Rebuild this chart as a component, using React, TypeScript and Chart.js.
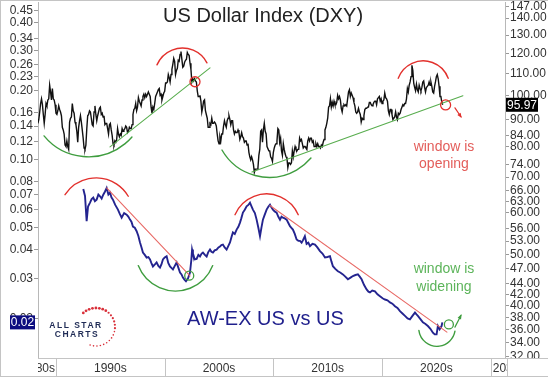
import React, { useEffect, useRef } from 'react';
import { Chart, registerables } from 'chart.js';

Chart.register(...registerables);

// ---------------- data ----------------
// US Dollar Index, monthly closes, starting April 1988
const DXY_START_YEAR = 1988;
const DXY_START_MONTH = 4; // end of April
const dxyLate1980s = [88.5, 90.0, 93.0, 96.5, 98.5, 96.0, 92.0, 88.5, 92.0,
  96.5, 95.5, 98.0, 98.5, 104.5, 101.5, 98.0, 103.0, 98.5, 98.0, 96.0, 92.5];
const dxy1990s = [
  92.0, 93.5, 95.5, 94.0, 93.0, 91.5, 87.0, 86.0, 84.5, 80.5, 80.0, 82.0,
  80.0, 79.0, 89.0, 90.5, 91.0, 96.5, 93.5, 92.5, 89.0, 88.0, 85.5, 81.5,
  87.0, 89.5, 91.5, 89.0, 86.0, 83.0, 79.5, 79.0, 80.5, 86.5, 91.5, 92.0,
  93.5, 93.0, 90.5, 88.0, 87.5, 93.0, 95.5, 92.0, 89.5, 91.5, 93.0, 94.5,
  95.0, 92.0, 92.5, 91.0, 91.5, 88.0, 88.5, 88.5, 86.5, 84.5, 88.0, 88.5,
  86.0, 84.0, 81.0, 80.5, 82.0, 81.5, 82.5, 86.5, 84.5, 83.5, 84.5, 84.0,
  86.5, 85.5, 86.0, 86.5, 87.5, 87.0, 85.0, 85.5, 87.0, 86.5, 86.5, 88.0,
  92.0, 94.0, 94.5, 96.5, 93.5, 95.0, 99.0, 97.5, 96.5, 95.5, 98.0, 99.5,
  100.5, 99.0, 100.5, 99.5, 100.5, 101.5, 100.5, 99.5, 95.0, 92.5, 95.0, 94.0,
  96.5, 99.5, 100.5, 101.5, 102.5, 103.0, 100.0, 100.5, 98.0, 99.5, 101.0, 101.8,
];
const dxy2000s = [
  105.5, 105.5, 106.0, 109.5, 108.0, 106.0, 109.5, 112.0, 114.5, 117.5, 116.0, 109.5,
  111.5, 112.5, 116.5, 116.0, 119.5, 121.0, 117.0, 113.0, 113.5, 115.5, 116.5, 117.0,
  120.5, 119.5, 119.0, 115.0, 112.0, 106.0, 107.5, 106.5, 107.5, 106.5, 106.0, 102.0,
  99.5, 99.5, 100.0, 97.5, 93.0, 95.0, 97.5, 98.0, 93.5, 92.0, 90.5, 87.0,
  87.0, 88.5, 88.0, 90.5, 88.5, 88.5, 89.0, 88.5, 87.5, 84.5, 82.0, 81.0,
  83.5, 82.0, 84.5, 84.5, 87.5, 89.5, 88.0, 87.0, 89.5, 90.5, 91.5, 90.0,
  88.0, 89.5, 89.5, 86.0, 84.5, 85.5, 85.0, 85.0, 86.0, 85.0, 82.5, 83.5,
  85.0, 83.5, 83.0, 81.5, 82.0, 82.0, 80.5, 81.0, 78.0, 76.5, 75.5, 76.5,
  75.5, 74.0, 71.5, 72.5, 72.5, 72.5, 73.0, 77.0, 79.0, 85.5, 86.0, 81.5,
  86.0, 88.5, 85.5, 84.5, 80.0, 80.0, 78.5, 78.5, 76.5, 76.0, 75.0, 78.0,
];
const dxy2010s = [
  79.5, 80.5, 81.0, 82.0, 86.5, 86.0, 81.5, 83.0, 78.5, 77.0, 81.0, 79.0,
  77.5, 76.5, 76.0, 73.0, 74.5, 74.5, 74.0, 74.5, 78.5, 76.5, 78.5, 80.0,
  79.0, 78.5, 79.0, 79.0, 83.0, 82.0, 82.5, 81.0, 79.5, 80.0, 80.0, 79.5,
  79.0, 82.0, 83.0, 82.0, 83.0, 83.0, 81.5, 82.0, 80.0, 80.0, 81.0, 80.0,
  81.0, 80.0, 80.0, 79.5, 80.5, 80.0, 81.5, 82.5, 86.0, 87.0, 88.5, 90.5,
  95.0, 95.5, 98.5, 95.0, 97.0, 95.5, 97.5, 96.0, 96.0, 97.0, 100.0, 98.5,
  99.5, 98.0, 94.5, 93.0, 95.5, 96.0, 95.5, 96.0, 95.5, 98.5, 101.5, 102.5,
  99.5, 101.0, 100.0, 99.0, 97.0, 95.5, 93.0, 92.5, 93.0, 94.5, 93.0, 92.0,
  89.0, 90.5, 90.0, 91.5, 94.0, 94.5, 94.5, 95.0, 95.0, 97.0, 97.0, 96.0,
  95.5, 96.0, 97.0, 97.5, 97.5, 96.0, 98.5, 99.0, 99.5, 97.5, 98.5, 96.5,
];
const dxy2020s = [
  97.5, 98.0, 101.0, 99.0, 98.5, 97.5, 93.5, 92.0, 94.0, 94.0, 92.0, 90.0,
  90.5, 91.0, 93.0, 91.0, 90.0, 92.5, 92.0, 92.5, 94.0, 94.0, 96.0, 95.5,
  96.5, 96.5, 98.5, 103.0, 101.5, 104.5, 106.0, 108.5, 114.0, 111.5, 105.5, 103.5,
  102.0, 105.0, 102.5, 101.5, 104.5, 103.0, 102.0, 103.5, 106.0, 106.5, 103.5, 101.5,
  103.5, 104.0, 104.5, 106.0, 104.5, 106.0, 104.0, 101.5, 101.0, 104.0, 106.0, 108.5,
  109.5, 107.5, 104.0, 99.5, 99.5, 97.0, 95.97,
];

// AW-EX US vs US ratio: [year, value]
const awex1990s: [number, number][] = [
  [1992.51, 0.0741], [1992.67, 0.0690], [1992.82, 0.0534], [1992.95, 0.0620], [1993.13, 0.0645],
  [1993.28, 0.0668], [1993.43, 0.0679], [1993.58, 0.0655], [1993.74, 0.0665], [1993.90, 0.0700],
  [1994.05, 0.0688], [1994.20, 0.0672], [1994.35, 0.0699], [1994.50, 0.0720], [1994.66, 0.0748],
  [1994.82, 0.0700], [1994.97, 0.0714], [1995.10, 0.0680], [1995.24, 0.0665], [1995.45, 0.0630],
  [1995.70, 0.0601], [1995.87, 0.0575], [1996.04, 0.0554], [1996.27, 0.0580], [1996.50, 0.0571],
  [1996.65, 0.0560], [1996.81, 0.0543], [1996.95, 0.0530], [1997.08, 0.0506], [1997.25, 0.0500],
  [1997.42, 0.0483], [1997.58, 0.0460], [1997.73, 0.0431], [1997.87, 0.0410], [1998.00, 0.0389],
  [1998.17, 0.0380], [1998.34, 0.0370], [1998.50, 0.0372], [1998.65, 0.0363], [1998.78, 0.0350],
  [1998.92, 0.0338], [1999.10, 0.0345], [1999.26, 0.0352], [1999.42, 0.0340], [1999.57, 0.0334],
  [1999.70, 0.0345], [1999.84, 0.0363],
];
const awex2000s: [number, number][] = [
  [2000.00, 0.0370], [2000.18, 0.0375], [2000.33, 0.0350], [2000.49, 0.0338], [2000.62, 0.0333],
  [2000.76, 0.0328], [2000.93, 0.0340], [2001.10, 0.0352], [2001.25, 0.0335], [2001.41, 0.0318],
  [2001.55, 0.0312], [2001.68, 0.0302], [2001.82, 0.0296], [2001.96, 0.0291], [2002.15, 0.0300],
  [2002.33, 0.0318], [2002.45, 0.0360], [2002.52, 0.0401], [2002.60, 0.0385], [2002.77, 0.0363],
  [2002.94, 0.0365], [2003.10, 0.0380], [2003.25, 0.0374], [2003.40, 0.0385], [2003.52, 0.0389],
  [2003.70, 0.0380], [2003.86, 0.0374], [2004.00, 0.0390], [2004.17, 0.0401], [2004.30, 0.0392],
  [2004.44, 0.0389], [2004.60, 0.0398], [2004.78, 0.0401], [2004.95, 0.0410], [2005.09, 0.0414],
  [2005.22, 0.0420], [2005.36, 0.0422], [2005.52, 0.0410], [2005.70, 0.0401], [2005.85, 0.0415],
  [2006.01, 0.0431], [2006.15, 0.0455], [2006.28, 0.0477], [2006.45, 0.0470], [2006.62, 0.0491],
  [2006.78, 0.0505], [2006.93, 0.0527], [2007.05, 0.0550], [2007.20, 0.0583], [2007.37, 0.0600],
  [2007.54, 0.0621], [2007.70, 0.0630], [2007.85, 0.0645], [2008.00, 0.0620], [2008.12, 0.0601],
  [2008.30, 0.0580], [2008.46, 0.0543], [2008.62, 0.0500], [2008.77, 0.0459], [2008.90, 0.0500],
  [2009.04, 0.0543], [2009.20, 0.0570], [2009.38, 0.0601], [2009.55, 0.0620], [2009.69, 0.0632],
  [2009.82, 0.0615], [2009.96, 0.0601],
];
const awex2010s: [number, number][] = [
  [2010.12, 0.0590], [2010.30, 0.0583], [2010.45, 0.0560], [2010.61, 0.0543], [2010.75, 0.0560],
  [2010.88, 0.0554], [2011.05, 0.0550], [2011.22, 0.0543], [2011.38, 0.0525], [2011.53, 0.0508],
  [2011.66, 0.0500], [2011.80, 0.0491], [2011.97, 0.0470], [2012.14, 0.0444], [2012.30, 0.0438],
  [2012.45, 0.0438], [2012.60, 0.0430], [2012.72, 0.0440], [2012.90, 0.0459], [2013.06, 0.0425],
  [2013.22, 0.0430], [2013.37, 0.0415], [2013.60, 0.0425], [2013.83, 0.0422], [2014.05, 0.0410],
  [2014.29, 0.0395], [2014.52, 0.0385], [2014.75, 0.0370], [2014.98, 0.0372], [2015.21, 0.0375],
  [2015.35, 0.0355], [2015.48, 0.0339], [2015.70, 0.0330], [2015.94, 0.0322], [2016.15, 0.0318],
  [2016.40, 0.0312], [2016.62, 0.0305], [2016.86, 0.0297], [2017.10, 0.0302], [2017.32, 0.0307],
  [2017.55, 0.0310], [2017.78, 0.0312], [2017.95, 0.0305], [2018.12, 0.0297], [2018.35, 0.0280],
  [2018.58, 0.0268], [2018.75, 0.0262], [2018.89, 0.0260], [2019.10, 0.0265], [2019.35, 0.0263],
  [2019.58, 0.0255], [2019.81, 0.0250],
];
const awex2020s: [number, number][] = [
  [2020.05, 0.0245], [2020.27, 0.0242], [2020.50, 0.0240], [2020.73, 0.0235], [2020.95, 0.0232],
  [2021.19, 0.0226], [2021.42, 0.0222], [2021.65, 0.0215], [2021.88, 0.0210], [2022.11, 0.0205],
  [2022.35, 0.0200], [2022.57, 0.0198], [2022.80, 0.0205], [2023.03, 0.0212], [2023.17, 0.0208],
  [2023.30, 0.0205], [2023.55, 0.0198], [2023.76, 0.0192], [2024.00, 0.0189], [2024.22, 0.0185],
  [2024.45, 0.0180], [2024.68, 0.0173], [2024.85, 0.0170], [2025.02, 0.0170], [2025.14, 0.0185],
  [2025.30, 0.0179], [2025.48, 0.0185], [2025.55, 0.0192],
];

// axis ticks
const ratioTicks = [0.45, 0.40, 0.34, 0.30, 0.26, 0.23, 0.20, 0.16, 0.14, 0.12, 0.10, 0.08, 0.07, 0.06, 0.05, 0.04, 0.03, 0.02];
const dxyTicks = [147, 140, 130, 120, 110, 100, 90, 84, 80, 74, 70, 66, 63, 60, 56, 53, 50, 47, 44, 42, 40, 38, 36, 34, 32];
const decadeStarts = [1980, 1990, 2000, 2010, 2020, 2030];
const decadeLabels = ['1980s', '1990s', '2000s', '2010s', '2020s', '2030s'];

// axis ranges
const YEAR_MIN = 1988.344;
const YEAR_MAX = 2031.315;
const RATIO_MIN = 0.01339;
const RATIO_MAX = 0.491;
const DXY_MIN = 31.83;
const DXY_MAX = 150.2;

// annotations (data coordinates: [year, value])
const dxyArcs: { color: string; pts: [number, number][] }[] = [
  { color: 'green', pts: [[1988.9, 83.8], [1993.13, 76.5], [1996.99, 83.4]] },
  { color: 'red', pts: [[1999.29, 114.2], [2001.59, 122.9], [2003.89, 115.2]] },
  { color: 'green', pts: [[2005.27, 78.8], [2008.95, 70.1], [2013.46, 76.1]] },
  { color: 'red', pts: [[2021.49, 107.7], [2023.79, 116.2], [2026.09, 107.7]] },
];
const dxyTrendlines: [number, number][][] = [
  [[1994.97, 79.9], [2004.17, 112.7]],
  [[2008.03, 71.6], [2027.44, 99.8]],
];
const dxyCircles: [number, number][] = [[2002.79, 106.1], [2025.85, 95.9]];
const dxyArrow: [number, number][] = [[2026.71, 94.7], [2027.26, 91.1]];

const ratioArcs: { color: string; pts: [number, number][] }[] = [
  { color: 'red', pts: [[1990.83, 0.0699], [1993.74, 0.0828], [1996.65, 0.0688]] },
  { color: 'green', pts: [[1997.57, 0.0341], [2002.02, 0.0268], [2004.42, 0.0341]] },
  { color: 'red', pts: [[2006.47, 0.0571], [2009.53, 0.0704], [2012.29, 0.0571]] },
  { color: 'green', pts: [[2023.39, 0.0177], [2025.05, 0.01507], [2026.71, 0.01756]] },
];
const ratioTrendlines: [number, number][][] = [
  [[1994.66, 0.0748], [2002.33, 0.0307]],
  [[2009.69, 0.0626], [2025.97, 0.0174]],
];
const ratioCircles: [number, number][] = [[2002.26, 0.0308], [2026.15, 0.0188]];
const ratioArrow: [number, number][] = [[2026.71, 0.0183], [2027.26, 0.0206]];

const openingText = { year: 2025.7, lines: ['window is', 'opening'], values: [79.9, 74.2] };
const wideningText = { year: 2025.7, lines: ['window is', 'widening'], values: [0.0330, 0.0273] };

// ---------------- helpers ----------------
const FONT = '"Liberation Sans", Arial, Helvetica, sans-serif';
const RED = '#e2302c';
const GREEN = '#3f9d3f';

const dxyValues = [...dxyLate1980s, ...dxy1990s, ...dxy2000s, ...dxy2010s, ...dxy2020s];
const dxyPoints = dxyValues.map((v, i) => ({ x: DXY_START_YEAR + (DXY_START_MONTH + i) / 12, y: v }));
const awexPoints = [...awex1990s, ...awex2000s, ...awex2010s, ...awex2020s].map(([x, y]) => ({ x, y }));

function arc3(ctx: CanvasRenderingContext2D, p: { x: number; y: number }[]) {
  const [a, b, c] = p;
  const d = 2 * (a.x * (b.y - c.y) + b.x * (c.y - a.y) + c.x * (a.y - b.y));
  const a2 = a.x * a.x + a.y * a.y, b2 = b.x * b.x + b.y * b.y, c2 = c.x * c.x + c.y * c.y;
  const ux = (a2 * (b.y - c.y) + b2 * (c.y - a.y) + c2 * (a.y - b.y)) / d;
  const uy = (a2 * (c.x - b.x) + b2 * (a.x - c.x) + c2 * (b.x - a.x)) / d;
  const r = Math.hypot(a.x - ux, a.y - uy);
  const t1 = Math.atan2(a.y - uy, a.x - ux);
  const t2 = Math.atan2(b.y - uy, b.x - ux);
  const t3 = Math.atan2(c.y - uy, c.x - ux);
  const norm = (t: number) => ((t % (2 * Math.PI)) + 2 * Math.PI) % (2 * Math.PI);
  const cw = norm(t2 - t1) < norm(t3 - t1);
  ctx.beginPath();
  ctx.arc(ux, uy, r, t1, t3, !cw);
  ctx.stroke();
}

function arrow(ctx: CanvasRenderingContext2D, x1: number, y1: number, x2: number, y2: number, color: string) {
  ctx.strokeStyle = color;
  ctx.fillStyle = color;
  ctx.lineWidth = 1.2;
  ctx.beginPath();
  ctx.moveTo(x1, y1);
  ctx.lineTo(x2, y2);
  ctx.stroke();
  const ang = Math.atan2(y2 - y1, x2 - x1);
  const h = 4;
  ctx.beginPath();
  ctx.moveTo(x2 + Math.cos(ang) * 1.5, y2 + Math.sin(ang) * 1.5);
  ctx.lineTo(x2 - h * Math.cos(ang - 0.5), y2 - h * Math.sin(ang - 0.5));
  ctx.lineTo(x2 - h * Math.cos(ang + 0.5), y2 - h * Math.sin(ang + 0.5));
  ctx.closePath();
  ctx.fill();
}

const overlayPlugin = {
  id: 'overlay',
  afterDatasetsDraw(chart: any) {
    const { ctx, chartArea: ca, scales } = chart;
    const X = (v: number) => scales.x.getPixelForValue(v);
    const R = (v: number) => scales.yR.getPixelForValue(v);
    const L = (v: number) => scales.yL.getPixelForValue(v);
    ctx.save();
    ctx.beginPath();
    ctx.rect(ca.left, ca.top, ca.right - ca.left, ca.bottom - ca.top);
    ctx.clip();
    ctx.lineCap = 'round';

    // trend lines
    ctx.lineWidth = 1.1;
    ctx.strokeStyle = '#58ad4e';
    dxyTrendlines.forEach(([p, q]) => {
      ctx.beginPath(); ctx.moveTo(X(p[0]), R(p[1])); ctx.lineTo(X(q[0]), R(q[1])); ctx.stroke();
    });
    ctx.strokeStyle = '#e86a66';
    ratioTrendlines.forEach(([p, q]) => {
      ctx.beginPath(); ctx.moveTo(X(p[0]), L(p[1])); ctx.lineTo(X(q[0]), L(q[1])); ctx.stroke();
    });

    // arcs
    ctx.lineWidth = 1.4;
    dxyArcs.forEach((a) => {
      ctx.strokeStyle = a.color === 'red' ? RED : GREEN;
      arc3(ctx, a.pts.map(([x, y]) => ({ x: X(x), y: R(y) })));
    });
    ratioArcs.forEach((a) => {
      ctx.strokeStyle = a.color === 'red' ? RED : GREEN;
      arc3(ctx, a.pts.map(([x, y]) => ({ x: X(x), y: L(y) })));
    });

    // circles
    ctx.lineWidth = 1.3;
    ctx.strokeStyle = RED;
    dxyCircles.forEach(([x, y]) => { ctx.beginPath(); ctx.arc(X(x), R(y), 5, 0, Math.PI * 2); ctx.stroke(); });
    ctx.strokeStyle = GREEN;
    ratioCircles.forEach(([x, y]) => { ctx.beginPath(); ctx.arc(X(x), L(y), 4.5, 0, Math.PI * 2); ctx.stroke(); });

    // arrows
    arrow(ctx, X(dxyArrow[0][0]), R(dxyArrow[0][1]), X(dxyArrow[1][0]), R(dxyArrow[1][1]), RED);
    arrow(ctx, X(ratioArrow[0][0]), L(ratioArrow[0][1]), X(ratioArrow[1][0]), L(ratioArrow[1][1]), GREEN);

    // texts
    ctx.textAlign = 'center';
    ctx.textBaseline = 'middle';
    ctx.font = `14px ${FONT}`;
    ctx.fillStyle = '#e35d5a';
    openingText.lines.forEach((t, i) => ctx.fillText(t, X(openingText.year), R(openingText.values[i])));
    ctx.fillStyle = '#5cb45a';
    wideningText.lines.forEach((t, i) => ctx.fillText(t, X(wideningText.year), L(wideningText.values[i])));

    ctx.font = `20px ${FONT}`;
    ctx.fillStyle = '#1f1f8c';
    ctx.fillText('AW-EX US vs US', ca.left + (ca.right - ca.left) * 0.487, ca.top + (ca.bottom - ca.top) * 0.893);
    ctx.fillStyle = '#222';
    ctx.fillText('US Dollar Index (DXY)', ca.left + (ca.right - ca.left) * 0.482, ca.top + 14);

    // logo
    const lx = ca.left + 38, ly = ca.top + 325;
    ctx.fillStyle = '#1f2b55';
    ctx.font = `bold 8.5px ${FONT}`;
    try { (ctx as any).letterSpacing = '1.5px'; } catch (e) { /* ignore */ }
    ctx.fillText('ALL STAR', lx, ly - 1);
    ctx.fillText('CHARTS', lx + 1, ly + 8);
    try { (ctx as any).letterSpacing = '0px'; } catch (e) { /* ignore */ }
    const cx = lx + 20, cy = ly;
    const n = 24;
    const a0 = -132 * Math.PI / 180, a1 = 108 * Math.PI / 180;
    ctx.fillStyle = '#d9303a';
    for (let i = 0; i < n; i++) {
      const t = a0 + (a1 - a0) * (i / (n - 1));
      const rr = i < 8 ? 1.4 : i < 14 ? 1.1 : 0.8;
      ctx.beginPath();
      ctx.arc(cx + 19 * Math.cos(t), cy + 19 * Math.sin(t), rr, 0, Math.PI * 2);
      ctx.fill();
    }
    ctx.restore();
  },
  afterDraw(chart: any) {
    const { ctx, chartArea: ca, scales, width, height } = chart;
    const X = (v: number) => scales.x.getPixelForValue(v);
    ctx.save();
    // band under plot
    ctx.fillStyle = '#fff';
    ctx.fillRect(ca.left + 1, ca.bottom + 1, width - ca.left, height - ca.bottom);
    ctx.strokeStyle = '#c4c4c4';
    ctx.lineWidth = 1;
    const bt = Math.round(ca.bottom) + 0.5;
    ctx.beginPath();
    ctx.moveTo(ca.left, bt); ctx.lineTo(width, bt);
    ctx.moveTo(0, height - 0.5); ctx.lineTo(width, height - 0.5);
    ctx.moveTo(0.5, 0); ctx.lineTo(0.5, height);
    ctx.moveTo(0, 0.5); ctx.lineTo(width, 0.5);
    ctx.moveTo(Math.round(ca.right) + 2.5, bt); ctx.lineTo(Math.round(ca.right) + 2.5, height);
    decadeStarts.forEach((d) => {
      const xp = X(d);
      if (xp > ca.left + 1 && xp < ca.right - 1) {
        ctx.moveTo(Math.round(xp) + 0.5, bt); ctx.lineTo(Math.round(xp) + 0.5, height);
      }
    });
    ctx.stroke();

    ctx.font = `12px ${FONT}`;
    ctx.fillStyle = '#333';
    ctx.textBaseline = 'middle';
    const ty = (bt + height) / 2 + 0.5;
    decadeStarts.forEach((d, i) => {
      const a = X(d), b = X(d + 10);
      const va = Math.max(a, ca.left), vb = Math.min(b, ca.right + 2);
      if (vb - va < 4) return;
      ctx.save();
      ctx.beginPath();
      ctx.rect(va, bt, vb - va, height - bt);
      ctx.clip();
      if (a >= ca.left && b <= ca.right) {
        ctx.textAlign = 'center'; ctx.fillText(decadeLabels[i], (a + b) / 2, ty);
      } else if (a < ca.left) {
        ctx.textAlign = 'right'; ctx.fillText(decadeLabels[i], b - 1, ty);
      } else {
        ctx.textAlign = 'left'; ctx.fillText(decadeLabels[i], a + 2, ty);
      }
      ctx.restore();
    });

    // last value boxes
    const lastDxy = dxyValues[dxyValues.length - 1];
    const yD = scales.yR.getPixelForValue(lastDxy);
    ctx.fillStyle = '#000';
    ctx.fillRect(ca.right + 1, yD - 7, 32, 14);
    ctx.fillStyle = '#fff';
    ctx.textAlign = 'left';
    ctx.fillText(lastDxy.toFixed(2), ca.right + 2, yD + 0.5);

    const lastRatio = awexPoints[awexPoints.length - 1].y;
    const yA = scales.yL.getPixelForValue(lastRatio);
    ctx.fillStyle = '#0c0c80';
    ctx.fillRect(ca.left - 28, yA - 7, 25, 14);
    ctx.fillStyle = '#fff';
    ctx.textAlign = 'center';
    ctx.fillText(lastRatio.toFixed(2), ca.left - 15.5, yA + 0.5);
    ctx.restore();
  },
};

export default function App() {
  const ref = useRef<HTMLCanvasElement>(null);
  useEffect(() => {
    document.body.style.margin = '0';
    Chart.defaults.font.family = FONT;
    const chart = new Chart(ref.current as HTMLCanvasElement, {
      type: 'line',
      data: {
        datasets: [
          {
            label: 'DXY',
            data: dxyPoints,
            yAxisID: 'yR',
            borderColor: '#111',
            borderWidth: 1.4,
            pointRadius: 0,
            tension: 0,
          },
          {
            label: 'AW-EX US vs US',
            data: awexPoints,
            yAxisID: 'yL',
            borderColor: '#24248f',
            borderWidth: 1.9,
            pointRadius: 0,
            tension: 0,
          },
        ],
      },
      options: {
        responsive: false,
        animation: false,
        devicePixelRatio: 1,
        layout: { padding: { top: 2, bottom: 19, left: 0, right: 0 }, autoPadding: false },
        plugins: { legend: { display: false }, tooltip: { enabled: false }, title: { display: false } },
        events: [],
        scales: {
          x: { type: 'linear', min: YEAR_MIN, max: YEAR_MAX, display: false },
          yL: {
            type: 'logarithmic',
            position: 'left',
            min: RATIO_MIN,
            max: RATIO_MAX,
            afterBuildTicks: (s: any) => { s.ticks = ratioTicks.map((v) => ({ value: v })); },
            afterFit: (s: any) => { s.width = 38; s.paddingTop = 0; s.paddingBottom = 0; },
            ticks: {
              autoSkip: false,
              maxRotation: 0,
              minRotation: 0,
              padding: 1,
              color: '#333',
              font: { size: 12, family: FONT },
              callback: (v: any) => Number(v).toFixed(2),
            },
            grid: { drawOnChartArea: false, drawTicks: true, tickLength: 4, color: '#999' },
            border: { display: true, color: '#b8b8b8' },
          },
          yR: {
            type: 'logarithmic',
            position: 'right',
            min: DXY_MIN,
            max: DXY_MAX,
            afterBuildTicks: (s: any) => { s.ticks = dxyTicks.map((v) => ({ value: v })); },
            afterFit: (s: any) => { s.width = 43; s.paddingTop = 0; s.paddingBottom = 0; },
            ticks: {
              autoSkip: false,
              maxRotation: 0,
              minRotation: 0,
              padding: 1,
              color: '#333',
              font: { size: 12, family: FONT },
              callback: (v: any) => Number(v).toFixed(2),
            },
            grid: { drawOnChartArea: false, drawTicks: true, tickLength: 4, color: '#999' },
            border: { display: true, color: '#b8b8b8' },
          },
        },
      },
      plugins: [overlayPlugin],
    } as any);
    return () => chart.destroy();
  }, []);
  return (
    <div style={{ width: 548, height: 377, background: '#fff', position: 'relative' }}>
      <canvas ref={ref} width={548} height={377} style={{ display: 'block', width: 548, height: 377 }} />
    </div>
  );
}
